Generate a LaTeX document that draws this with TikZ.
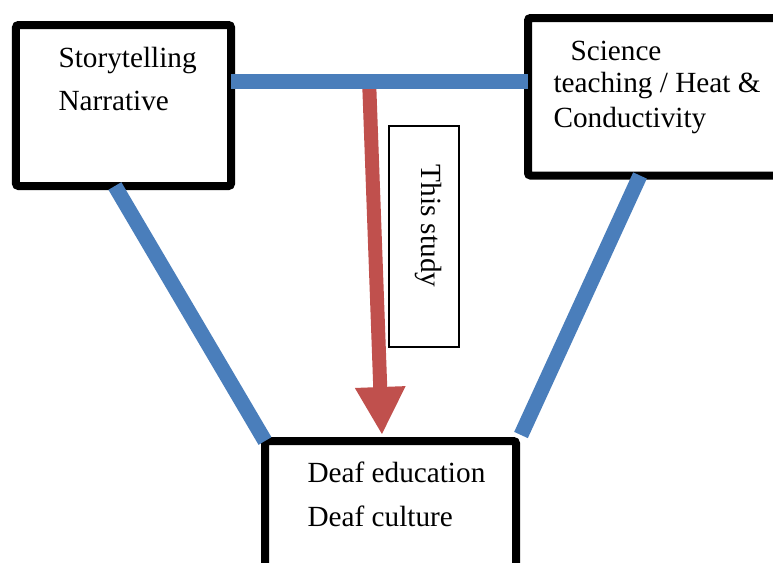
\documentclass[tikz,border=0pt]{standalone}
\usepackage{fontspec}
\setmainfont{Liberation Serif}
\usetikzlibrary{arrows.meta,calc,positioning}
\definecolor{linkblue}{RGB}{74,126,187}
\definecolor{studyred}{RGB}{192,80,77}

\begin{document}
\begin{tikzpicture}[x=0.4pt,y=-0.4pt,
  bigbox/.style={draw,line width=3.2pt,rounded corners=1pt,inner sep=0pt,outer sep=0pt},
  txt/.style={inner sep=0pt,anchor=base west,font=\fontsize{11.7}{14}\selectfont},
  bluelink/.style={draw=linkblue,line width=6pt},
  studyarrow/.style={draw=studyred,line width=5.6pt,-{Triangle[width=18.8pt,length=19.2pt]}}]
\useasboundingbox (0,0) rectangle (773,562);
\clip (0,0) rectangle (773,562);
% boxes
\node[bigbox,minimum width=86pt,minimum height=64.4pt] (story) at (123.5,105.5) {};
\node[bigbox,minimum width=104.8pt,minimum height=63pt] (sci) at (659,96.75) {};
\node[bigbox,minimum width=100.4pt,minimum height=63.6pt] (deaf) at (390.5,520.5) {};
\node[draw,line width=0.5pt,minimum width=28pt,minimum height=88.4pt,inner sep=0pt,outer sep=0pt] (study) at (424,236.5) {};
% texts
\node[txt] (story1) at (58,67) {Storytelling};
\node[txt] (story2) at (58,110) {Narrative};
\node[txt] (sci1) at (570,60) {Science};
\node[txt] (sci2) at (553,92) {teaching / Heat \&};
\node[txt] (sci3) at (553,127) {Conductivity};
\node[txt] (deaf1) at (307,482) {Deaf education};
\node[txt] (deaf2) at (307,526) {Deaf culture};
\node[txt,anchor=center,rotate=-90] (studytxt) at (428,226) {This study};
% links
\coordinate (bar) at ($(story.north east)!0.35!(story.south east)$);
\draw[studyarrow] ($(bar)!0.465!(bar -| sci.west)$) -- ($(deaf.north west)!0.466!(deaf.north east)+(0,-6)$);
\draw[bluelink] (bar) -- (bar -| sci.west);
\draw[bluelink] ($(story.south west)!0.46!(story.south east)$) -- (deaf.north west);
\draw[bluelink] ($(sci.south west)+(112,0)$) -- ($(deaf.north east)+(5,-6)$);
\end{tikzpicture}
\end{document}
